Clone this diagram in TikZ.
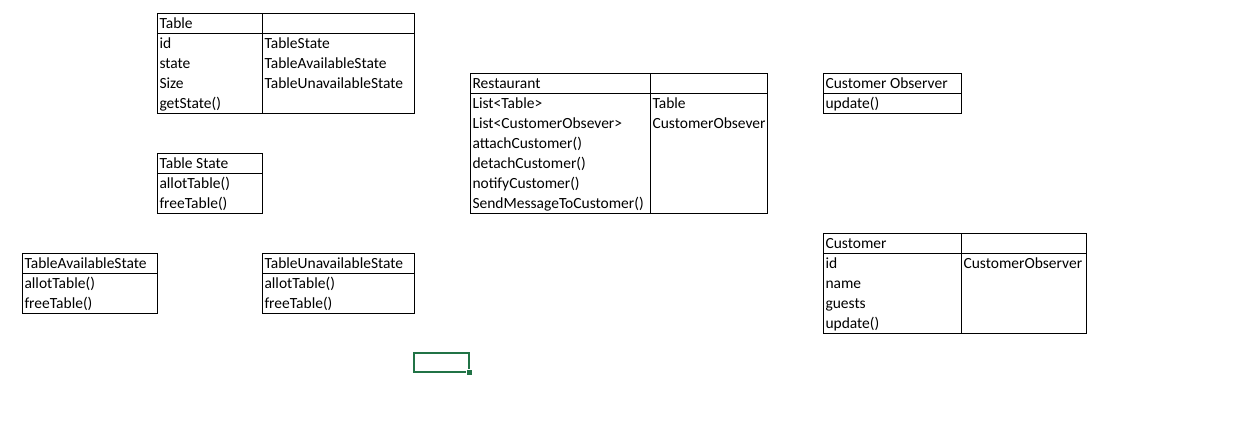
\documentclass[tikz,border=0pt]{standalone}
\usepackage{fontspec}
\setmainfont{Carlito}
\definecolor{xlgreen}{HTML}{217346}
\newcommand{\cellfont}{\fontsize{15.5}{18}\selectfont}
% draw a column of cells: name prefix, left x, top y of first row, items
\newcommand{\cellcol}[4]{%
  \foreach \t [count=\i] in {#4} {%
    \node[cell] (#1-\i) at ({#2+2.3},{#3+20*\i-5}) {\t};
  }%
}
\begin{document}
\begin{tikzpicture}[x=1pt,y=-1pt,
  cell/.style={anchor=base west, inner sep=0pt, font=\cellfont, text=black},
  box/.style={draw=black, line width=1pt},
  sel/.style={draw=xlgreen, line width=2pt}]
\useasboundingbox[fill=white] (0,0) rectangle (1237,426);

% Table
\draw[box] (157,13) rectangle (414,113);
\draw[box] (157,33) -- (414,33);
\draw[box] (262,13) -- (262,113);
\cellcol{tbl}{157}{13}{Table,id,state,Size,getState()}
\cellcol{tblr}{262}{33}{TableState,TableAvailableState,TableUnavailableState}

% Table State
\draw[box] (157,153) rectangle (262,213);
\draw[box] (157,173) -- (262,173);
\cellcol{ts}{157}{153}{Table State,allotTable(),freeTable()}

% TableAvailableState
\draw[box] (22,253) rectangle (157,313);
\draw[box] (22,273) -- (157,273);
\cellcol{tas}{22}{253}{TableAvailableState,allotTable(),freeTable()}

% TableUnavailableState
\draw[box] (262,253) rectangle (414,313);
\draw[box] (262,273) -- (414,273);
\cellcol{tus}{262}{253}{TableUnavailableState,allotTable(),freeTable()}

% Restaurant
\draw[box] (470,73) rectangle (767,213);
\draw[box] (470,93) -- (767,93);
\draw[box] (650,73) -- (650,213);
\cellcol{rst}{470}{73}{Restaurant,List<Table>,List<CustomerObsever>,attachCustomer(),detachCustomer(),notifyCustomer(),SendMessageToCustomer()}
\cellcol{rstr}{650}{93}{Table,CustomerObsever}

% Customer Observer
\draw[box] (823,73) rectangle (961,113);
\draw[box] (823,93) -- (961,93);
\cellcol{co}{823}{73}{Customer Observer,update()}

% Customer
\draw[box] (823,233) rectangle (1086,333);
\draw[box] (823,253) -- (1086,253);
\draw[box] (961,233) -- (961,333);
\cellcol{cu}{823}{233}{Customer,id,name,guests,update()}
\cellcol{cur}{961}{253}{CustomerObserver}

% selected cell
\draw[sel] (414,353) rectangle (469,372);
\fill[xlgreen, draw=white, line width=0.6pt] (466.5,369.5) rectangle (472.5,375.5);
\end{tikzpicture}
\end{document}
